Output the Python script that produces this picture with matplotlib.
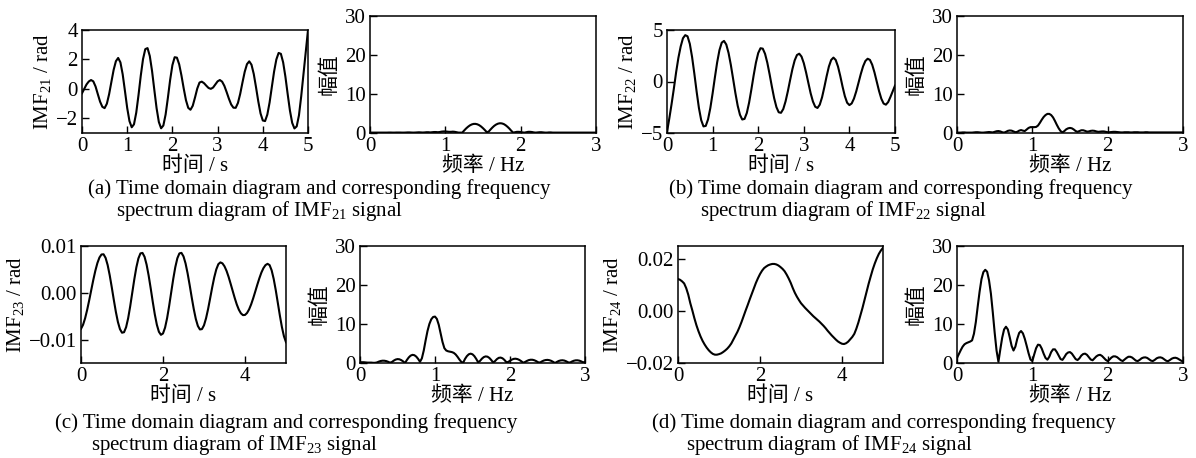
import numpy as np
import matplotlib.pyplot as plt
from matplotlib.ticker import FuncFormatter

plt.rcParams['font.family'] = ['Liberation Serif', 'Noto Sans CJK SC']
plt.rcParams['mathtext.fontset'] = 'custom'
plt.rcParams['mathtext.rm'] = 'Liberation Serif'
plt.rcParams['mathtext.it'] = 'Liberation Serif:italic'
plt.rcParams['axes.unicode_minus'] = True

# sample grids
t = np.linspace(0, 5, 101)      # s, step 0.05
freq = np.linspace(0, 3, 121)   # Hz, step 0.025

# time domain signals
imf21 = [-0.3, 0.0, 0.3, 0.5, 0.6, 0.51, 0.16, -0.36, -0.87, -1.22,
         -1.31, -1.01, -0.36, 0.47, 1.29, 1.88, 2.10, 1.80, 0.99, -0.14,
         -1.30, -2.19, -2.61, -2.41, -1.62, -0.43, 0.89, 2.02, 2.70, 2.77,
         2.23, 1.21, -0.07, -1.31, -2.25, -2.68, -2.49, -1.74, -0.61, 0.61,
         1.61, 2.15, 2.12, 1.67, 0.91, 0.03, -0.77, -1.29, -1.42, -1.15,
         -0.59, 0.02, 0.43, 0.49, 0.385, 0.215, 0.06, 0.0, 0.09, 0.3,
         0.51, 0.60, 0.49, 0.20, -0.22, -0.67, -1.06, -1.28, -1.29, -0.96,
         -0.34, 0.43, 1.16, 1.68, 1.87, 1.64, 1.01, 0.11, -0.85, -1.67,
         -2.15, -2.19, -1.75, -0.93, 0.13, 1.18, 2.00, 2.44, 2.38, 1.80,
         0.83, -0.35, -1.47, -2.31, -2.69, -2.55, -1.8, -0.5, 1.0, 2.5,
         4.0]

imf22 = [-4.9, -3.6, -2.2, -0.7, 0.9, 2.3, 3.4, 4.2, 4.5, 4.39,
         3.66, 2.38, 0.75, -0.99, -2.57, -3.75, -4.36, -4.31, -3.68, -2.58,
         -1.16, 0.39, 1.86, 3.04, 3.77, 3.94, 3.59, 2.77, 1.61, 0.25,
         -1.13, -2.35, -3.23, -3.69, -3.63, -3.06, -2.06, -0.78, 0.59, 1.83,
         2.76, 3.23, 3.19, 2.69, 1.82, 0.70, -0.50, -1.62, -2.49, -2.99,
         -3.04, -2.67, -1.93, -0.95, 0.15, 1.20, 2.05, 2.57, 2.70, 2.42,
         1.78, 0.88, -0.14, -1.14, -1.94, -2.45, -2.57, -2.25, -1.54, -0.56,
         0.50, 1.45, 2.09, 2.32, 2.09, 1.45, 0.53, -0.50, -1.42, -2.06,
         -2.29, -2.13, -1.66, -0.96, -0.12, 0.73, 1.47, 1.99, 2.21, 2.10,
         1.63, 0.88, -0.02, -0.92, -1.67, -2.14, -2.25, -2.0, -1.5, -0.95,
         -0.4]

# IMF23 and IMF24 in units of 1e-3 rad
imf23_milli = [-7.7, -6.84, -5.45, -3.66, -1.59, 0.59, 2.76, 4.72, 6.36, 7.54,
               8.19, 8.23, 7.46, 5.93, 3.76, 1.20, -1.50, -4.06, -6.23, -7.76,
               -8.53, -8.42, -7.35, -5.43, -2.88, 0.0, 2.88, 5.43, 7.35, 8.42,
               8.52, 7.69, 6.02, 3.69, 0.95, -1.92, -4.6, -6.82, -8.33, -8.98,
               -8.69, -7.45, -5.42, -2.80, 0.10, 2.97, 5.48, 7.38, 8.42, 8.53,
               7.78, 6.28, 4.16, 1.67, -0.97, -3.46, -5.58, -7.08, -7.83, -7.76,
               -6.94, -5.44, -3.46, -1.17, 1.17, 3.30, 5.01, 6.12, 6.5, 6.29,
               5.66, 4.68, 3.40, 1.92, 0.39, -1.13, -2.50, -3.61, -4.38, -4.77,
               -4.73, -4.31, -3.54, -2.47, -1.17, 0.26, 1.72, 3.10, 4.33, 5.28,
               5.92, 6.19, 5.92, 4.80, 2.96, 0.57, -2.13, -4.84, -7.32, -9.29,
               -10.56]

imf24_milli = [12.3, 12.0, 11.4, 10.6, 8.8, 6.3, 3.0, 0.2, -2.8, -5.5,
               -7.8, -9.8, -11.5, -12.9, -14.1, -15.1, -15.9, -16.5, -16.8, -16.8,
               -16.6, -16.3, -15.8, -15.2, -14.5, -13.6, -12.5, -11.0, -9.5, -8.0,
               -6.2, -4.2, -2.0, 0.2, 2.3, 4.5, 6.6, 8.7, 10.8, 12.6,
               14.2, 15.5, 16.5, 17.1, 17.6, 17.9, 18.1, 18.1, 17.9, 17.5,
               16.9, 16.2, 15.3, 14.0, 12.5, 10.8, 8.8, 7.0, 5.5, 4.2,
               3.0, 2.1, 1.2, 0.4, -0.4, -1.2, -2.0, -2.7, -3.4, -4.1,
               -4.9, -5.7, -6.6, -7.6, -8.5, -9.4, -10.2, -11.0, -11.7, -12.2,
               -12.6, -12.7, -12.4, -11.8, -10.9, -10.0, -8.8, -6.8, -4.4, -1.6,
               1.2, 4.3, 7.4, 10.5, 13.3, 16.0, 18.3, 20.3, 22.0, 23.3,
               24.3]

# amplitude spectra
spec21 = [0.1, 0.1, 0.1, 0.1, 0.1, 0.1, 0.1, 0.1,
          0.1, 0.1, 0.12, 0.12, 0.1, 0.1, 0.12, 0.12,
          0.12, 0.1, 0.1, 0.12, 0.15, 0.15, 0.12, 0.1,
          0.12, 0.15, 0.18, 0.15, 0.12, 0.15, 0.2, 0.2,
          0.15, 0.2, 0.25, 0.25, 0.2, 0.25, 0.35, 0.4,
          0.4, 0.35, 0.3, 0.3, 0.35, 0.3, 0.2, 0.1,
          0.1, 0.1, 0.64, 1.15, 1.58, 1.94, 2.19, 2.33,
          2.34, 2.23, 2.0, 1.66, 1.23, 0.75, 0.21, 0.35,
          0.9, 1.41, 1.85, 2.18, 2.4, 2.5, 2.46, 2.3,
          2.0, 1.6, 1.13, 0.58, 0.1, 0.2, 0.3, 0.3,
          0.25, 0.15, 0.1, 0.2, 0.3, 0.3, 0.25, 0.15,
          0.1, 0.15, 0.2, 0.2, 0.15, 0.1, 0.1, 0.15,
          0.15, 0.1, 0.1, 0.1, 0.1, 0.1, 0.1, 0.1,
          0.1, 0.1, 0.1, 0.1, 0.1, 0.1, 0.1, 0.1,
          0.1, 0.1, 0.1, 0.1, 0.1, 0.1, 0.1, 0.1,
          0.1]

spec22 = [0.1, 0.1, 0.1, 0.15, 0.15, 0.1, 0.1, 0.1,
          0.1, 0.15, 0.2, 0.2, 0.15, 0.1, 0.1, 0.15,
          0.2, 0.25, 0.2, 0.15, 0.3, 0.45, 0.5, 0.4,
          0.2, 0.1, 0.3, 0.55, 0.65, 0.6, 0.4, 0.2,
          0.3, 0.6, 0.75, 0.6, 0.5, 0.9, 1.3, 1.5,
          1.5, 1.5, 1.55, 1.9, 2.6, 3.4, 4.1, 4.6,
          4.9, 4.9, 4.6, 4.0, 3.1, 2.1, 1.2, 0.5,
          0.15, 0.5, 0.95, 1.2, 1.3, 1.2, 0.9, 0.5,
          0.3, 0.5, 0.7, 0.7, 0.55, 0.35, 0.4, 0.55,
          0.6, 0.55, 0.4, 0.3, 0.35, 0.4, 0.4, 0.3,
          0.2, 0.2, 0.25, 0.3, 0.3, 0.25, 0.2, 0.15,
          0.15, 0.2, 0.2, 0.2, 0.15, 0.15, 0.2, 0.2,
          0.2, 0.15, 0.15, 0.15, 0.2, 0.2, 0.15, 0.15,
          0.15, 0.15, 0.15, 0.15, 0.15, 0.15, 0.15, 0.15,
          0.15, 0.15, 0.15, 0.15, 0.15, 0.15, 0.15, 0.15,
          0.15]

spec23 = [0.2, 0.2, 0.2, 0.15, 0.1, 0.1, 0.1, 0.05,
          0.05, 0.14, 0.35, 0.51, 0.59, 0.58, 0.49, 0.31,
          0.09, 0.25, 0.61, 0.88, 1.0, 0.95, 0.74, 0.41,
          0.0, 0.77, 1.43, 1.89, 2.09, 2.0, 1.64, 1.05,
          0.31, 1.2, 3.2, 5.8, 8.2, 10.0, 11.2, 11.8,
          11.9, 11.3, 9.8, 7.6, 5.4, 3.8, 3.2, 3.0,
          2.9, 2.8, 2.6, 2.2, 1.6, 0.9, 0.3, 0.05,
          1.04, 1.76, 2.23, 2.4, 2.23, 1.76, 1.04, 0.18,
          0.53, 1.1, 1.51, 1.69, 1.62, 1.29, 0.77, 0.13,
          0.48, 0.99, 1.32, 1.39, 1.21, 0.8, 0.24, 0.23,
          0.6, 0.88, 1.06, 1.1, 1.0, 0.78, 0.46, 0.08,
          0.25, 0.53, 0.74, 0.84, 0.83, 0.7, 0.48, 0.19,
          0.12, 0.4, 0.63, 0.76, 0.8, 0.72, 0.55, 0.29,
          0.0, 0.28, 0.52, 0.66, 0.7, 0.62, 0.43, 0.17,
          0.11, 0.37, 0.57, 0.68, 0.69, 0.6, 0.41, 0.16,
          0.3]

spec24 = [1.3, 2.3, 3.3, 4.2, 4.8, 5.1, 5.3, 5.5,
          5.8, 7.5, 10.5, 14.5, 18.3, 21.5, 23.3, 23.9,
          23.4, 21.2, 17.8, 13.0, 7.8, 3.2, 0.3, 3.5,
          6.5, 8.6, 9.3, 8.6, 6.6, 4.4, 3.2, 4.2,
          6.2, 7.7, 8.2, 7.6, 6.2, 4.4, 2.5, 0.9,
          0.5, 2.2, 3.8, 4.7, 4.6, 3.7, 2.4, 1.3,
          0.85, 1.6, 2.8, 3.5, 3.5, 2.8, 1.9, 1.0,
          0.8, 1.5, 2.3, 2.7, 2.8, 2.4, 1.7, 1.0,
          0.75, 1.2, 1.9, 2.3, 2.4, 2.1, 1.5, 0.9,
          0.7, 1.2, 1.7, 2.0, 2.1, 1.8, 1.3, 0.8,
          0.5, 0.9, 1.4, 1.7, 1.7, 1.5, 1.1, 0.7,
          0.5, 0.9, 1.3, 1.6, 1.6, 1.4, 1.0, 0.6,
          0.5, 0.8, 1.2, 1.4, 1.45, 1.3, 0.95, 0.6,
          0.5, 0.8, 1.2, 1.4, 1.45, 1.3, 0.95, 0.6,
          0.45, 0.75, 1.1, 1.3, 1.35, 1.2, 0.9, 0.6,
          0.4]

names = ['21', '22', '23', '24']
letters = ['a', 'b', 'c', 'd']
signals = [np.array(imf21), np.array(imf22),
           np.array(imf23_milli) / 1000, np.array(imf24_milli) / 1000]
spectra = [spec21, spec22, spec23, spec24]
time_yticks = [[-2, 0, 2, 4], [-5, 0, 5], [-0.01, 0.0, 0.01], [-0.02, 0.0, 0.02]]
time_ylims = [(-3, 4), (-5, 5), (-0.015, 0.01), (-0.02, 0.025)]
time_xticks = [[0, 1, 2, 3, 4, 5], [0, 1, 2, 3, 4, 5], [0, 2, 4], [0, 2, 4]]

W, H = 1196, 458


def box(x0, y0, x1, y1):
    return [x0 / W, 1 - y1 / H, (x1 - x0) / W, (y1 - y0) / H]


time_boxes = [(82, 30, 308, 133), (667, 30, 895, 133),
              (81, 246, 286, 363), (678, 246, 883, 363)]
spec_boxes = [(370, 16, 596, 133), (957, 16, 1183, 133),
              (360, 246, 585, 363), (957, 246, 1183, 363)]
cap_pos = [((88, 189), (116, 211)), ((669, 189), (700, 211)),
           ((55, 423), (91, 445)), ((652, 423), (686, 445))]

FS = 15
LW = 1.5


def fmt2(v, pos):
    return f'{v:.2f}'.replace('-', '\u2212')


def style(ax):
    ax.tick_params(direction='in', length=5, width=1, labelsize=FS,
                   top=False, right=False, pad=3)
    for s in ax.spines.values():
        s.set_linewidth(1.1)


fig = plt.figure(figsize=(W / 100, H / 100), dpi=100)

for i in range(4):
    ax = fig.add_axes(box(*time_boxes[i]))
    ax.plot(t, signals[i], color='black', lw=LW)
    ax.set_xlim(0, 5)
    ax.set_ylim(*time_ylims[i])
    ax.set_xticks(time_xticks[i])
    ax.set_yticks(time_yticks[i])
    if i >= 2:
        ax.yaxis.set_major_formatter(FuncFormatter(fmt2))
    ax.set_xlabel('时间 / s', fontsize=FS, labelpad=0)
    ax.set_ylabel(f'IMF$_{{{names[i]}}}$ / rad', fontsize=FS, labelpad=2)
    style(ax)

    ax2 = fig.add_axes(box(*spec_boxes[i]))
    ax2.plot(freq, spectra[i], color='black', lw=LW)
    ax2.set_xlim(0, 3)
    ax2.set_ylim(0, 30)
    ax2.set_xticks([0, 1, 2, 3])
    ax2.set_yticks([0, 10, 20, 30])
    ax2.set_xlabel('频率 / Hz', fontsize=FS, labelpad=0)
    ax2.set_ylabel('幅值', fontsize=FS, labelpad=4)
    style(ax2)

    (x1, y1), (x2, y2) = cap_pos[i]
    fig.text(x1 / W, 1 - y1 / H,
             f'({letters[i]}) Time domain diagram and corresponding frequency',
             fontsize=FS, ha='left', va='center')
    fig.text(x2 / W, 1 - y2 / H,
             f'spectrum diagram of IMF$_{{{names[i]}}}$ signal',
             fontsize=FS, ha='left', va='center')

fig.savefig('out.png', dpi=100)
